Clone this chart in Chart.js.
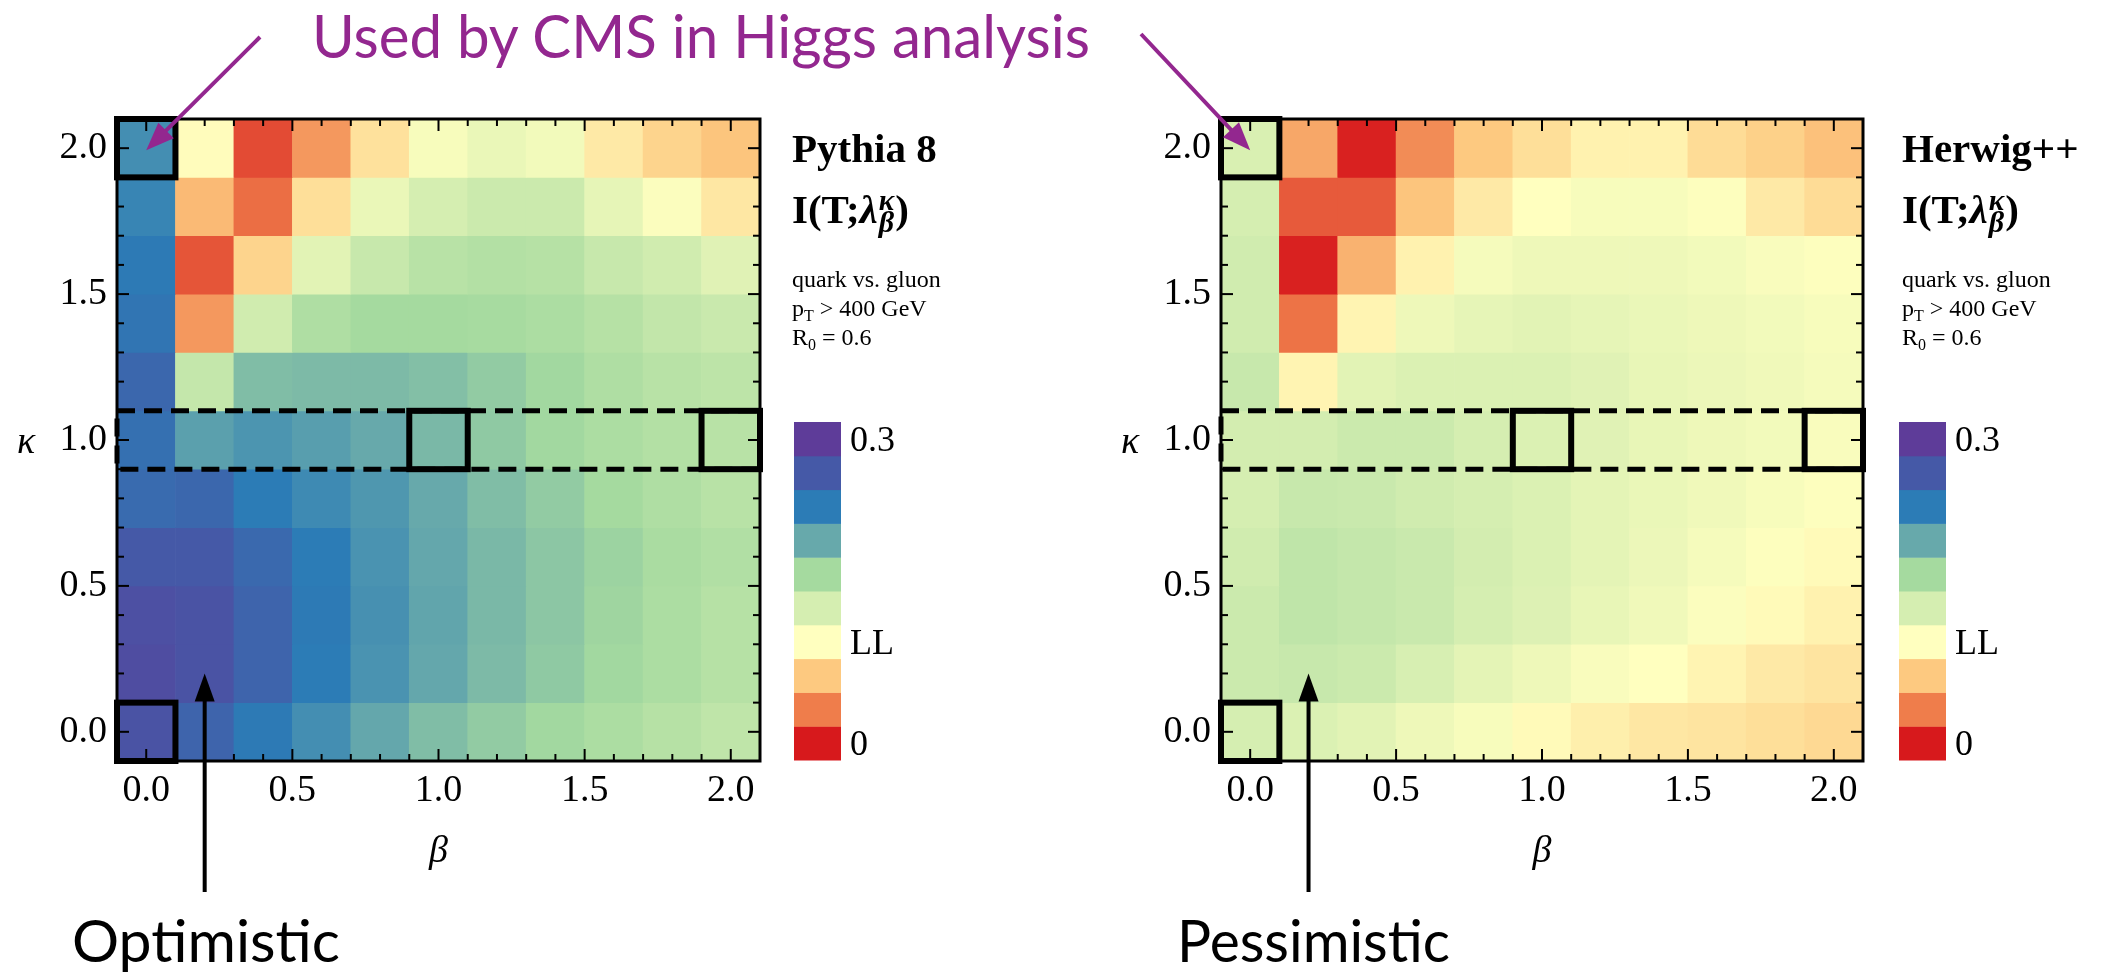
<!DOCTYPE html>
<html>
<head>
<meta charset="utf-8">
<title>I(T; lambda) quark vs gluon</title>
<script src="https://cdn.jsdelivr.net/npm/chart.js@4.4.1/dist/chart.umd.min.js"></script>
<style>
  html, body { margin: 0; padding: 0; background: #fff; }
  #page { position: relative; width: 2102px; height: 976px; overflow: hidden; background: #fff; }
  #page canvas { position: absolute; top: 0; }
  #overlay { position: absolute; left: 0; top: 0; pointer-events: none; }
  #overlay text { white-space: pre; }
</style>
</head>
<body>
<div id="page">
  <canvas id="pythia" width="780" height="976" style="left:0px"></canvas>
  <canvas id="herwig" width="780" height="976" style="left:1100px"></canvas>
  <svg id="overlay" width="2102" height="976" xmlns="http://www.w3.org/2000/svg"></svg>
</div>
<script>
// ---- grid coordinates ----
const betaValues  = [0.0, 0.2, 0.4, 0.6, 0.8, 1.0, 1.2, 1.4, 1.6, 1.8, 2.0];
const kappaValues = [2.0, 1.8, 1.6, 1.4, 1.2, 1.0, 0.8, 0.6, 0.4, 0.2, 0.0];   // rows, top to bottom
const axisTicks   = [0.0, 0.5, 1.0, 1.5, 2.0];
const frameTicks  = [0.0, 0.1, 0.2, 0.3, 0.4, 0.5, 0.6, 0.7, 0.8, 0.9, 1.0,
                     1.1, 1.2, 1.3, 1.4, 1.5, 1.6, 1.7, 1.8, 1.9, 2.0];

// ---- mutual information, as a position on the colour bar (0 = "0", 3 = "LL", 9 = "0.3") ----
const pythiaLevels = [
  [6.6, 2.95, 0.5, 1.35, 2.45, 3.2, 3.5, 3.3, 2.6, 2.2, 1.95],
  [6.8, 1.8, 0.85, 2.4, 3.5, 4.0, 4.2, 4.2, 3.6, 3.1, 2.55],
  [7.05, 0.6, 2.2, 3.7, 4.3, 4.6, 4.7, 4.65, 4.3, 4.1, 3.75],
  [7.2, 1.35, 4.1, 4.8, 5.0, 5.0, 4.95, 4.85, 4.65, 4.4, 4.25],
  [7.6, 4.35, 5.6, 5.65, 5.65, 5.55, 5.3, 5.05, 4.8, 4.6, 4.5],
  [7.35, 6.2, 6.45, 6.25, 6.0, 5.7, 5.35, 5.05, 4.85, 4.7, 4.6],
  [7.5, 7.6, 7.0, 6.7, 6.4, 6.0, 5.6, 5.3, 5.0, 4.8, 4.6],
  [8.0, 8.0, 7.55, 7.0, 6.5, 6.05, 5.7, 5.4, 5.15, 4.9, 4.75],
  [8.3, 8.2, 7.7, 7.05, 6.55, 6.1, 5.7, 5.4, 5.1, 4.85, 4.65],
  [8.4, 8.2, 7.7, 7.0, 6.5, 6.05, 5.65, 5.35, 5.05, 4.85, 4.65],
  [8.2, 7.7, 7.05, 6.6, 6.05, 5.6, 5.3, 5.05, 4.85, 4.65, 4.45]
];
const herwigLevels = [
  [3.9, 1.55, 0.08, 1.2, 2.0, 2.4, 2.75, 2.75, 2.35, 2.15, 1.9],
  [4.0, 0.65, 0.65, 1.95, 2.6, 3.0, 3.2, 3.2, 3.05, 2.6, 2.35],
  [4.1, 0.08, 1.7, 2.75, 3.25, 3.4, 3.4, 3.4, 3.3, 3.15, 3.05],
  [4.1, 0.9, 2.8, 3.4, 3.6, 3.7, 3.6, 3.5, 3.4, 3.3, 3.2],
  [4.3, 2.8, 3.7, 3.85, 3.85, 3.85, 3.75, 3.55, 3.45, 3.35, 3.25],
  [4.05, 4.05, 4.2, 4.2, 4.0, 3.85, 3.75, 3.55, 3.4, 3.3, 3.15],
  [4.0, 4.3, 4.25, 4.1, 4.0, 3.85, 3.65, 3.5, 3.35, 3.2, 3.05],
  [4.1, 4.45, 4.35, 4.25, 4.05, 3.85, 3.65, 3.45, 3.25, 3.05, 2.9],
  [4.2, 4.45, 4.35, 4.25, 4.0, 3.8, 3.55, 3.35, 3.1, 2.9, 2.75],
  [4.2, 4.3, 4.2, 3.95, 3.65, 3.4, 3.15, 3.0, 2.8, 2.6, 2.5],
  [4.0, 3.85, 3.7, 3.4, 3.2, 2.9, 2.7, 2.55, 2.5, 2.4, 2.3]
];

// colour bar bins, bottom (0) to top (0.3)
const palette = ['#d7191c', '#ef7d4b', '#fdc980', '#ffffbf', '#d5eeb1',
                 '#a5da9f', '#67a9ab', '#2c7cb6', '#4559a7', '#5e3c99'];
const colorbarLabels = [{ level: 9, text: '0.3' }, { level: 3, text: 'LL' }, { level: 0, text: '0' }];

// (beta, kappa) cells outlined in black, the dashed kappa row, and the cell the lower arrow points at
const highlightedCells = [[0.0, 2.0], [0.0, 0.0], [1.0, 1.0], [2.0, 1.0]];
const bandKappa = 1.0;
const arrowCell = [0.2, 0.2];
const cmsCell = [0.0, 2.0];

const panelTitles = ['Pythia 8', 'Herwig++'];
const panelNotes = ['Optimistic', 'Pessimistic'];
const headline = 'Used by CMS in Higgs analysis';
const PURPLE = '#93278f';

// ---- colour map ----
const paletteRgb = palette.map(h => [1, 3, 5].map(i => parseInt(h.slice(i, i + 2), 16)));
function levelColor(level) {
  const i = Math.max(0, Math.min(Math.floor(level), palette.length - 2));
  const t = Math.max(0, Math.min(1, level - i));
  const a = paletteRgb[i], b = paletteRgb[i + 1];
  const c = a.map((v, k) => Math.round(v + (b[k] - v) * t));
  return 'rgb(' + c.join(',') + ')';
}

const betaStep = betaValues[1] - betaValues[0];
const kappaStep = Math.abs(kappaValues[0] - kappaValues[1]);

function buildDatasets(levels) {
  return kappaValues.map((k, r) => ({
    label: 'κ = ' + k.toFixed(1),
    data: betaValues.map(b => ({ x: b, y: [k - kappaStep / 2, k + kappaStep / 2] })),
    backgroundColor: levels[r].map(levelColor),
    borderWidth: 0,
    grouped: false,
    categoryPercentage: 1,
    barPercentage: 1
  }));
}

const isMajor = v => axisTicks.some(t => Math.abs(t - v) < 1e-9);

// frame, inward ticks, outlined cells, dashed row, axis symbols and the lower arrow
const panelDecor = {
  id: 'panelDecor',
  afterDatasetsDraw(chart) {
    const { ctx, chartArea: a, scales: { x, y } } = chart;
    const line = (x0, y0, x1, y1) => { ctx.beginPath(); ctx.moveTo(x0, y0); ctx.lineTo(x1, y1); ctx.stroke(); };
    ctx.save();
    ctx.strokeStyle = '#000';
    ctx.lineWidth = 3;
    ctx.strokeRect(a.left, a.top, a.right - a.left, a.bottom - a.top);

    ctx.lineWidth = 2;
    frameTicks.forEach(v => {
      const len = isMajor(v) ? 12 : 7;
      const px = x.getPixelForValue(v), py = y.getPixelForValue(v);
      line(px, a.bottom, px, a.bottom - len);
      line(px, a.top, px, a.top + len);
      line(a.left, py, a.left + len, py);
      line(a.right, py, a.right - len, py);
    });

    // dashed kappa row
    ctx.lineWidth = 5;
    ctx.setLineDash([18, 9]);
    const yTop = y.getPixelForValue(bandKappa + kappaStep / 2);
    const yBot = y.getPixelForValue(bandKappa - kappaStep / 2);
    ctx.strokeRect(a.left, yTop, a.right - a.left, yBot - yTop);
    ctx.setLineDash([]);

    // outlined cells
    ctx.lineWidth = 6;
    highlightedCells.forEach(([b, k]) => {
      const x0 = x.getPixelForValue(b - betaStep / 2), x1 = x.getPixelForValue(b + betaStep / 2);
      const y0 = y.getPixelForValue(k + kappaStep / 2), y1 = y.getPixelForValue(k - kappaStep / 2);
      ctx.strokeRect(x0, y0, x1 - x0, y1 - y0);
    });

    // axis symbols
    ctx.fillStyle = '#000';
    ctx.font = 'italic 38px "Liberation Serif"';
    ctx.textAlign = 'center';
    ctx.textBaseline = 'alphabetic';
    ctx.fillText('β', (a.left + a.right) / 2, a.bottom + 101);
    ctx.fillText('κ', a.left - 91, y.getPixelForValue(bandKappa) + 13);

    // upward arrow into the low-kappa, low-beta corner
    const ax = x.getPixelForValue(arrowCell[0]);
    const tipY = y.getPixelForValue(arrowCell[1]);
    const tailY = a.bottom + 131;
    ctx.lineWidth = 4;
    line(ax, tailY, ax, tipY + 24);
    ctx.beginPath();
    ctx.moveTo(ax, tipY);
    ctx.lineTo(ax - 10, tipY + 28);
    ctx.lineTo(ax + 10, tipY + 28);
    ctx.closePath();
    ctx.fill();
    ctx.restore();
  }
};

const tickFont = { family: '"Liberation Serif"', size: 38 };

function makePanel(canvasId, levels, yAxisWidth, rightPad) {
  const lo = betaValues[0] - betaStep / 2, hi = betaValues[betaValues.length - 1] + betaStep / 2;
  const klo = kappaValues[kappaValues.length - 1] - kappaStep / 2, khi = kappaValues[0] + kappaStep / 2;
  return new Chart(document.getElementById(canvasId), {
    type: 'bar',
    data: { datasets: buildDatasets(levels) },
    options: {
      responsive: false,
      animation: false,
      events: [],
      layout: { padding: { top: 119, right: rightPad, left: 0, bottom: 0 } },
      plugins: { legend: { display: false }, tooltip: { enabled: false } },
      scales: {
        x: {
          type: 'linear', min: lo, max: hi, offset: false,
          grid: { display: false, drawTicks: false }, border: { display: false },
          afterBuildTicks: s => { s.ticks = axisTicks.map(v => ({ value: v })); },
          afterFit: s => { s.height = 976 - 761; },
          ticks: { autoSkip: false, maxRotation: 0, minRotation: 0, padding: 7, color: '#000',
                   font: tickFont, callback: v => Number(v).toFixed(1) }
        },
        y: {
          type: 'linear', min: klo, max: khi,
          grid: { display: false, drawTicks: false }, border: { display: false },
          afterBuildTicks: s => { s.ticks = axisTicks.map(v => ({ value: v })); },
          afterFit: s => { s.width = yAxisWidth; },
          ticks: { autoSkip: false, padding: 10, color: '#000',
                   font: tickFont, callback: v => Number(v).toFixed(1) }
        }
      }
    },
    plugins: [panelDecor]
  });
}

const panels = [
  { chart: makePanel('pythia', pythiaLevels, 117, 20), left: 0,    textGap: 32, barGap: 34 },
  { chart: makePanel('herwig', herwigLevels, 121, 17), left: 1100, textGap: 39, barGap: 36 }
];

// ---- annotations ----
const svg = document.getElementById('overlay');
const NS = 'http://www.w3.org/2000/svg';
const NBSP = '\u00a0';
function el(tag, attrs, text) {
  const e = document.createElementNS(NS, tag);
  for (const k in attrs) e.setAttribute(k, attrs[k]);
  if (text != null) e.textContent = text;
  svg.appendChild(e);
  return e;
}
function serif(text, x, y, size, weight, style) {
  return el('text', { x, y, 'font-family': 'Liberation Serif', 'font-size': size,
    'font-weight': weight || 'normal', 'font-style': style || 'normal', fill: '#000' }, text);
}
function arrow(x0, y0, x1, y1, color, width, headLen, headHalf) {
  const dx = x1 - x0, dy = y1 - y0, L = Math.hypot(dx, dy), ux = dx / L, uy = dy / L;
  const bx = x1 - ux * headLen, by = y1 - uy * headLen;
  el('line', { x1: x0, y1: y0, x2: bx + ux * 3, y2: by + uy * 3, stroke: color, 'stroke-width': width });
  el('polygon', { points: `${x1},${y1} ${bx - uy * headHalf},${by + ux * headHalf} ${bx + uy * headHalf},${by - ux * headHalf}`,
                  fill: color });
}

el('text', { x: 312, y: 58, 'font-family': 'Lato', 'font-size': 60, fill: PURPLE,
             textLength: 778, lengthAdjust: 'spacingAndGlyphs' }, headline);

const arrowStarts = [[260, 37], [1141, 34]];
const noteX = [72, 1177], noteW = [268, 273];

panels.forEach((p, i) => {
  const a = p.chart.chartArea, xs = p.chart.scales.x, ys = p.chart.scales.y;
  const right = p.left + a.right;
  const tx = right + p.textGap;

  // labels beside the map
  serif(panelTitles[i], tx, 162, 41, 'bold');
  const t1 = serif('I(T;', tx, 223, 41, 'bold');
  const w1 = t1.getComputedTextLength();
  const lam = serif('λ', tx + w1, 223, 41, 'bold', 'italic');
  const xl = tx + w1 + lam.getComputedTextLength() + 1;
  const sup = serif('κ', xl, 210, 29, 'bold', 'italic');
  const sub = serif('β', xl, 232, 30, 'bold', 'italic');
  const wMax = Math.max(sup.getComputedTextLength(), sub.getComputedTextLength());
  serif(')', xl + wMax + 1, 223, 41, 'bold');

  serif('quark vs. gluon', tx, 287, 24);
  const p1 = serif('p', tx, 316, 24);
  const pw = p1.getComputedTextLength();
  const tT = serif('T', tx + pw, 321, 16);
  serif(NBSP + '> 400 GeV', tx + pw + tT.getComputedTextLength(), 316, 24);
  const r1 = serif('R', tx, 345, 24);
  const rw = r1.getComputedTextLength();
  const r0 = serif('0', tx + rw, 350, 16);
  serif(NBSP + '= 0.6', tx + rw + r0.getComputedTextLength(), 345, 24);

  // colour bar
  const cbX = right + p.barGap, cbW = 47, binH = 33.8, cbBottom = a.bottom - 1;
  palette.forEach((c, lv) => {
    el('rect', { x: cbX, y: cbBottom - (lv + 1) * binH, width: cbW, height: binH + 0.5, fill: c });
  });
  colorbarLabels.forEach(l => {
    serif(l.text, cbX + cbW + 9, cbBottom - (l.level + 0.5) * binH + 12, 36);
  });

  // purple pointer to the cell used by CMS
  const tipX = p.left + xs.getPixelForValue(cmsCell[0]);
  const tipY = ys.getPixelForValue(cmsCell[1]) + 2;
  arrow(arrowStarts[i][0], arrowStarts[i][1], tipX, tipY, PURPLE, 4, 28, 11);

  el('text', { x: noteX[i], y: 962, 'font-family': 'Lato', 'font-size': 58, fill: '#000',
               textLength: noteW[i], lengthAdjust: 'spacingAndGlyphs' }, panelNotes[i]);
});
</script>
</body>
</html>
